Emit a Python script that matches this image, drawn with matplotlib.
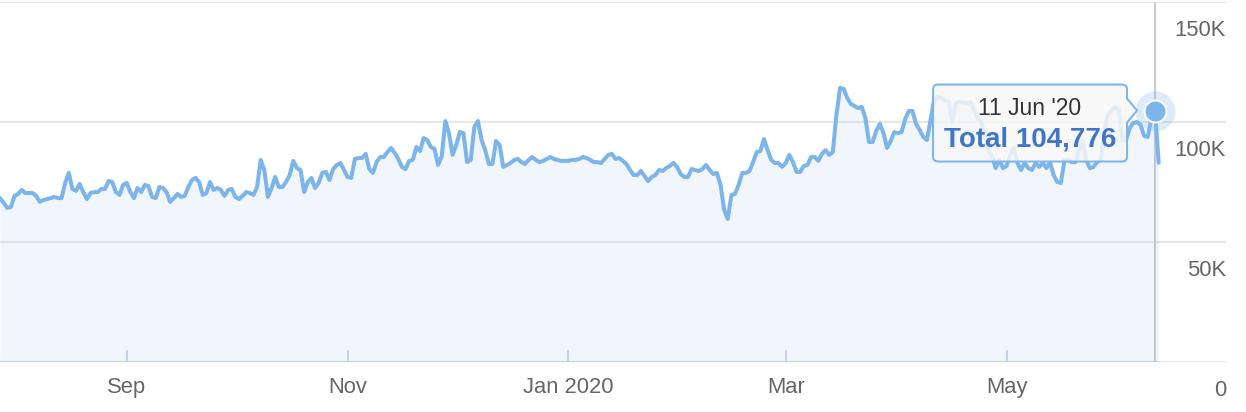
import numpy as np
import pandas as pd
import matplotlib
matplotlib.use("Agg")
import matplotlib.pyplot as plt
import matplotlib.dates as mdates
import matplotlib.transforms as mtransforms
from matplotlib.path import Path
from matplotlib.patches import PathPatch

plt.rcParams["font.family"] = ["Liberation Sans", "DejaVu Sans"]

# ---------------- data ----------------
start_date = "2019-07-28"
# daily totals, in thousands
totals_k = [
    68.3, 66.3, 64.2, 64.6, 69.2, 70.0, 71.7, 70.4, 70.4, 70.4,
    69.2, 66.7, 67.5, 67.9, 68.3, 68.8, 68.3, 68.3, 74.6, 78.8,
    72.1, 71.3, 74.2, 70.8, 67.9, 70.4, 70.8, 70.8, 72.1, 72.1,
    75.4, 75.0, 70.8, 69.6, 73.8, 74.6, 70.8, 68.3, 72.5, 70.8,
    73.8, 73.3, 68.8, 68.3, 72.9, 72.5, 70.8, 66.7, 68.3, 70.0,
    68.8, 69.2, 72.9, 75.8, 76.7, 75.0, 69.6, 70.4, 75.0, 71.7,
    72.5, 71.7, 69.2, 71.7, 72.1, 68.8, 67.9, 69.2, 70.8, 70.4,
    69.6, 72.9, 84.2, 80.0, 68.8, 72.5, 77.1, 72.9, 72.9, 75.0,
    77.9, 83.8, 80.8, 80.0, 70.8, 75.0, 76.7, 72.5, 74.6, 78.8,
    79.2, 75.8, 80.4, 82.1, 82.9, 80.0, 77.1, 76.7, 84.6, 85.0,
    85.0, 86.7, 80.4, 78.8, 83.3, 85.4, 85.4, 87.5, 89.2, 87.1,
    84.6, 81.3, 80.4, 83.8, 84.2, 89.6, 87.9, 93.3, 92.5, 89.6,
    88.8, 82.1, 85.8, 100.4, 95.4, 86.3, 90.4, 95.8, 95.4, 83.3,
    84.2, 97.9, 100.4, 92.5, 88.3, 82.5, 82.5, 92.1, 90.4, 81.3,
    82.1, 82.9, 84.2, 84.6, 83.3, 82.5, 84.2, 85.4, 84.2, 83.3,
    83.8, 84.6, 85.4, 84.6, 84.2, 83.8, 83.8, 83.8, 84.2, 84.2,
    84.6, 85.4, 85.0, 84.2, 83.3, 83.3, 82.9, 84.6, 86.3, 86.7,
    84.6, 85.0, 83.8, 82.5, 80.0, 77.9, 77.9, 79.6, 77.5, 75.4,
    77.1, 77.9, 80.0, 79.6, 80.8, 81.7, 82.9, 81.3, 78.3, 77.1,
    77.1, 80.4, 80.0, 79.6, 80.4, 82.1, 80.0, 78.3, 78.8, 73.8,
    63.3, 59.6, 69.6, 70.0, 73.8, 78.8, 78.8, 79.6, 83.3, 87.5,
    87.9, 92.9, 88.3, 84.2, 82.9, 82.9, 81.3, 82.9, 86.3, 83.3,
    79.2, 79.2, 81.7, 82.1, 85.4, 85.4, 83.8, 86.7, 88.3, 86.3,
    87.5, 102.9, 114.2, 113.8, 110.0, 107.5, 106.7, 105.8, 106.3, 101.7,
    91.7, 91.7, 96.3, 99.2, 95.4, 89.2, 92.1, 95.8, 95.4, 95.8,
    101.3, 104.6, 104.6, 99.2, 96.7, 93.8, 92.5, 100.8, 109.2, 110.4,
    110.0, 109.2, 108.3, 100.0, 107.9, 108.3, 108.3, 107.9, 108.3, 105.0,
    101.7, 100.0, 94.6, 88.3, 85.4, 80.8, 84.2, 80.8, 81.7, 86.3,
    89.2, 82.9, 80.0, 82.9, 80.8, 80.0, 82.9, 81.3, 82.9, 80.8,
    83.3, 77.9, 75.0, 74.6, 84.2, 84.2, 83.3, 83.3, 88.3, 92.1,
    84.2, 80.8, 81.3, 83.3, 84.2, 96.7, 102.9, 105.0, 106.3, 105.0,
    92.5, 92.5, 97.5, 99.6, 100.0, 98.8, 94.2, 93.8, 101.7, 104.776,
    83.0,
]

x_tick_dates = ["2019-09-01", "2019-11-01", "2020-01-01", "2020-03-01", "2020-05-01"]
x_tick_labels = ["Sep", "Nov", "Jan 2020", "Mar", "May"]
y_tick_values = [0, 50000, 100000, 150000]
y_tick_labels = ["0", "50K", "100K", "150K"]

highlight_date = "2020-06-11"
highlight_label = "11 Jun '20"
highlight_value = 104776

# ---------------- style ----------------
LINE = "#7cb5ec"
GRID = "#e6e6e6"
AXIS = "#ccd6eb"
LABEL = "#666666"

dates = pd.date_range(start_date, periods=len(totals_k), freq="D")
values = np.array(totals_k) * 1000.0

W, H = 1246, 412
fig = plt.figure(figsize=(W / 100, H / 100), dpi=100)
ax = fig.add_axes([0, 50 / H, 1226 / W, 360 / H])
ax.set_facecolor("none")

x0 = mdates.date2num(dates[0])
ax.set_xlim(x0, x0 + 338.6)
ax.set_ylim(0, 150000)

# grid
ax.set_yticks(y_tick_values)
ax.tick_params(axis="y", left=False, right=False, labelleft=False, labelright=False)
ax.grid(axis="y", color=GRID, linewidth=1.44, zorder=0)
ax.set_axisbelow(True)
for s in ax.spines.values():
    s.set_visible(False)

# x-axis line (up to last data point)
ax.hlines(0, x0, mdates.date2num(dates[-1]), color=AXIS, linewidth=1.6, zorder=1)

# x ticks
ax.set_xticks(mdates.date2num(pd.to_datetime(x_tick_dates)))
ax.set_xticklabels(x_tick_labels)
ax.tick_params(axis="x", direction="in", length=8.6, width=1.44, color=AXIS,
               pad=11, labelsize=15.8, labelcolor=LABEL)

# y labels (inside, right aligned, below gridlines)
ylab_trans = mtransforms.blended_transform_factory(ax.transAxes, ax.transData) + \
    mtransforms.ScaledTranslation(0, -34 / 100, fig.dpi_scale_trans)
for v, lab in zip(y_tick_values, y_tick_labels):
    ax.text(1.0, v, lab, transform=ylab_trans, ha="right", va="baseline",
            fontsize=15.8, color=LABEL, clip_on=False)

# crosshair
hx = mdates.date2num(pd.Timestamp(highlight_date))
ax.axvline(hx, color="#cccccc", linewidth=1.6, zorder=1.5)

# area + line
ax.fill_between(dates, values, 0, color=LINE, alpha=0.11, linewidth=0, zorder=2)
ax.plot(dates, values, color=LINE, linewidth=2.9, solid_joinstyle="round",
        solid_capstyle="round", zorder=3)

# hover marker
ax.plot([hx], [highlight_value], marker="o", markersize=28.8, color=LINE,
        alpha=0.25, markeredgewidth=0, zorder=4, clip_on=False)
ax.plot([hx], [highlight_value], marker="o", markersize=15.8, color=LINE,
        markeredgecolor="white", markeredgewidth=1.44, zorder=5, clip_on=False)

# tooltip callout (display pixel coordinates relative to the hovered point)
px, py = ax.transData.transform((hx, highlight_value))
L, R, T, B, r = px - 222, px - 28, py + 26, py - 51, 5
verts = [
    (L + r, T), (R - r, T), (R, T), (R, T - r), (R, py + 12), (px - 18, py),
    (R, py - 12), (R, B + r), (R, B), (R - r, B), (L + r, B), (L, B), (L, B + r),
    (L, T - r), (L, T), (L + r, T), (L + r, T),
]
codes = [
    Path.MOVETO, Path.LINETO, Path.CURVE3, Path.CURVE3, Path.LINETO, Path.LINETO,
    Path.LINETO, Path.LINETO, Path.CURVE3, Path.CURVE3, Path.LINETO, Path.CURVE3,
    Path.CURVE3, Path.LINETO, Path.CURVE3, Path.CURVE3, Path.CLOSEPOLY,
]
callout = PathPatch(Path(verts, codes), facecolor=(0.97, 0.97, 0.97, 0.85),
                    edgecolor=LINE, linewidth=1.44,
                    transform=mtransforms.IdentityTransform(), zorder=6)
fig.add_artist(callout)
cx = (L + R) / 2
fig.text(cx, py - 4, highlight_label, transform=mtransforms.IdentityTransform(),
         ha="center", va="baseline", fontsize=16.5, color="#333333", zorder=7)
fig.text(cx, py - 36, f"Total {highlight_value:,}", transform=mtransforms.IdentityTransform(),
         ha="center", va="baseline", fontsize=20, fontweight="bold", color="#3f76c9", zorder=7)

fig.savefig("out.png", dpi=100)
